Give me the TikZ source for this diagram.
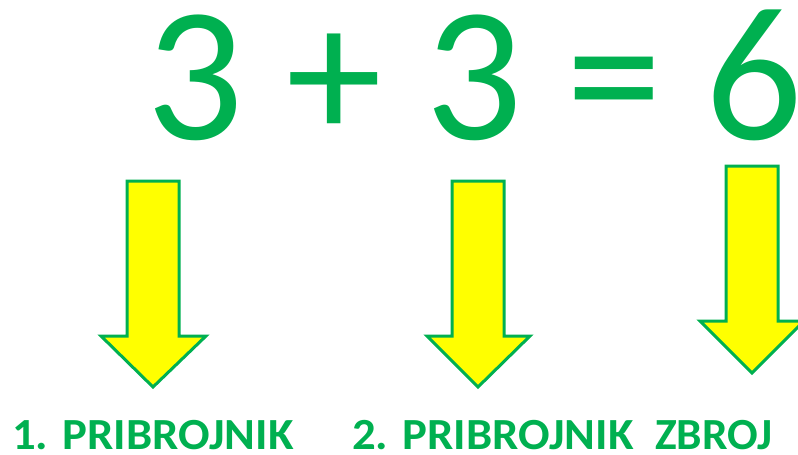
\documentclass[tikz,border=0pt]{standalone}
\usepackage{fontspec}
\usepackage{graphicx}
\setmainfont{Carlito}
\definecolor{offgreen}{HTML}{00B050}
\definecolor{arrowyellow}{HTML}{FFFF00}
\tikzset{
  blockarrow/.style={draw=offgreen, fill=arrowyellow, line width=3pt, line join=miter},
  bigtext/.style={inner sep=0pt, anchor=base west, text=offgreen, font=\fontsize{192}{192}\selectfont},
  labeltext/.style={inner sep=0pt, text depth=0pt, anchor=base west, text=offgreen, font=\fontsize{44.5}{44.5}\selectfont\bfseries}
}
\begin{document}
\begin{tikzpicture}[x=1pt,y=-1pt]
\useasboundingbox (0,0) rectangle (798,455);
\clip (0,0) rectangle (798,455);
\node[bigtext] (eq) at (146,139) {3 + 3 = 6};
% arrows
\draw[blockarrow] (127,181) -- (179,181) -- (179,336) -- (206,336) -- (153,387) -- (101,336) -- (127,336) -- cycle;
\draw[blockarrow] (452,181) -- (504,181) -- (504,336) -- (530,336) -- (478,387) -- (427,336) -- (452,336) -- cycle;
\draw[blockarrow] (726,166) -- (778,166) -- (778,321) -- (804,321) -- (752,373) -- (700,321) -- (726,321) -- cycle;
\node[labeltext] (l1) at (12,449) {\scalebox{1.05}[1]{1. PRIBROJNIK}};
\node[labeltext] (l2) at (352,449) {\scalebox{1.05}[1]{2. PRIBROJNIK}};
\node[labeltext] (l3) at (655,449) {\scalebox{1.02}[1]{ZBROJ}};
\end{tikzpicture}
\end{document}
